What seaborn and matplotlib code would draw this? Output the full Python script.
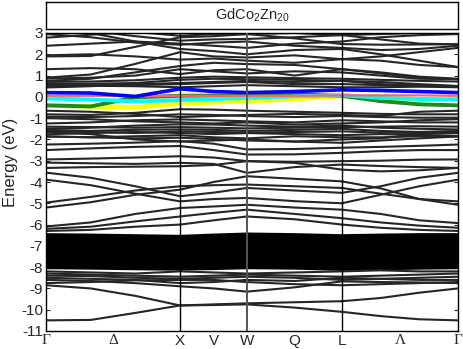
import numpy as np
import pandas as pd
import matplotlib
matplotlib.use("Agg")
import matplotlib.pyplot as plt
import seaborn as sns

sns.set_theme(style="white")
plt.rcParams["font.family"] = ["Liberation Sans", "DejaVu Sans"]
plt.rcParams["axes.unicode_minus"] = False
plt.rcParams["mathtext.default"] = "regular"

# ---- k-path (fcc): segment lengths in 2pi/a and sampled fractions ----
SEGMENTS = [1.0, 0.5, 0.7071, 0.8660]          # G-X, X-W, W-L, L-G
FRACTIONS = [[0, 1/3, 2/3], [0, 0.5], [0, 0.5], [0, 1/3, 2/3, 1]]
TICK_LABELS = ["Γ", "Δ", "X", "V", "W", "Q", "L", "Λ", "Γ"]
TICK_FRAC = [(0, 0), (0, 0.5), (1, 0), (1, 0.5), (2, 0), (2, 0.5), (3, 0), (3, 0.5), (3, 1)]

# ---- bands: energies (eV) at G, D1, D2, X, V, W, Q, L, L1, L2, G ----
u1 = [2.78, 2.92, 3.05, 2.87, 2.95, 2.95, 3.00, 2.90, 2.95, 3.00, 3.03]
u2 = [3.20, 3.10, 2.85, 2.64, 2.70, 2.72, 2.80, 2.90, 2.70, 2.50, 2.47]
u3 = [1.90, 1.92, 2.35, 2.80, 2.85, 2.95, 2.75, 2.48, 2.45, 2.46, 2.47]
u4 = [3.10, 3.00, 2.60, 2.25, 2.15, 2.00, 2.20, 2.25, 2.00, 1.70, 1.40]
u5 = [0.90, 1.05, 1.55, 2.10, 1.90, 1.85, 1.95, 1.77, 1.70, 1.50, 1.40]
u6 = [0.75, 0.85, 1.15, 1.45, 1.60, 1.54, 1.50, 1.30, 1.15, 0.95, 0.85]
u7 = [1.30, 1.35, 1.30, 1.07, 1.25, 1.30, 1.00, 1.30, 1.10, 0.90, 0.83]
u8 = [0.86, 0.90, 1.00, 1.30, 1.20, 1.10, 1.20, 1.15, 1.00, 0.85, 0.83]
u9 = [0.60, 0.62, 0.65, 0.80, 0.85, 0.83, 0.80, 0.75, 0.70, 0.60, 0.51]
u10 = [0.55, 0.55, 0.55, 0.60, 0.65, 0.70, 0.60, 0.60, 0.55, 0.50, 0.51]
u11 = [0.44, 0.50, 0.60, 0.65, 0.70, 0.75, 0.70, 0.75, 0.60, 0.55, 0.50]
u12 = [2.40, 2.50, 2.60, 2.50, 2.40, 2.30, 2.50, 2.60, 2.80, 2.90, 2.95]
u13 = [0.70, 0.72, 0.78, 0.90, 0.95, 0.92, 0.88, 0.85, 0.80, 0.75, 0.72]
u14 = [0.48, 0.52, 0.50, 0.45, 0.50, 0.55, 0.50, 0.45, 0.45, 0.48, 0.45]
u15 = [1.95, 2.00, 1.90, 1.75, 1.80, 1.70, 1.60, 1.77, 1.90, 2.10, 2.30]
u16 = [2.95, 2.80, 2.55, 2.45, 2.55, 2.60, 2.40, 2.30, 2.20, 2.25, 2.40]

m1 = [-0.82, -0.85, -0.75, -0.58, -0.60, -0.65, -0.70, -0.75, -0.80, -0.82, -0.82]
m2 = [-0.93, -0.95, -0.90, -0.82, -0.85, -0.90, -0.95, -0.90, -0.95, -0.98, -0.98]
m3 = [-1.25, -1.20, -1.10, -1.06, -1.10, -1.15, -1.20, -1.10, -1.15, -1.20, -1.20]
m4 = [-1.50, -1.45, -1.35, -1.29, -1.30, -1.35, -1.40, -1.35, -1.45, -1.50, -1.53]
m5 = [-1.55, -1.60, -1.55, -1.53, -1.55, -1.60, -1.55, -1.50, -1.60, -1.65, -1.60]
m6 = [-1.76, -1.70, -1.65, -1.70, -1.75, -1.70, -1.75, -1.80, -1.75, -1.80, -1.84]
m7 = [-1.86, -1.90, -1.85, -1.80, -1.90, -1.95, -1.85, -1.90, -1.90, -1.85, -1.86]
m8 = [-1.65, -1.75, -2.00, -2.10, -2.05, -2.00, -2.10, -2.00, -1.95, -1.75, -1.70]
m9 = [-1.00, -1.05, -1.15, -1.20, -1.25, -1.20, -1.30, -1.25, -1.20, -1.10, -1.05]
m10 = [-1.40, -1.42, -1.45, -1.42, -1.45, -1.48, -1.45, -1.42, -1.40, -1.38, -1.40]
m11 = [-1.62, -1.65, -1.70, -1.62, -1.65, -1.68, -1.65, -1.62, -1.68, -1.70, -1.70]
m12 = [-0.65, -0.70, -0.80, -0.95, -0.90, -0.85, -0.80, -0.85, -0.90, -0.70, -0.65]

d1 = [-1.86, -1.90, -1.95, -1.92, -1.98, -2.05, -2.10, -2.16, -2.05, -1.95, -1.86]
d2 = [-2.24, -2.20, -2.15, -2.08, -2.20, -2.47, -2.45, -2.39, -2.35, -2.30, -2.24]
d3 = [-2.50, -2.42, -2.35, -2.31, -2.50, -2.71, -2.70, -2.63, -2.55, -2.50, -2.50]
d4 = [-2.94, -2.90, -2.85, -2.79, -2.85, -3.02, -3.05, -3.02, -3.00, -2.95, -2.94]
d5 = [-3.09, -3.12, -3.15, -3.10, -3.15, -3.57, -3.30, -3.18, -3.25, -3.30, -3.34]
d6 = [-3.56, -3.80, -4.20, -4.67, -4.50, -4.28, -4.40, -4.51, -4.20, -3.80, -3.57]
d7 = [-3.89, -4.15, -4.55, -4.91, -4.80, -4.75, -4.90, -5.00, -4.60, -4.20, -3.89]
d8 = [-4.97, -4.70, -4.40, -4.20, -4.15, -4.12, -4.20, -4.28, -4.55, -4.80, -4.91]
d9 = [-5.20, -4.95, -4.60, -4.36, -4.00, -3.73, -3.85, -3.97, -4.30, -4.80, -5.07]
d10 = [-3.34, -3.30, -3.28, -3.26, -3.20, -3.02, -3.10, -3.42, -3.50, -3.45, -3.34]
d11 = [-6.09, -5.90, -5.50, -5.22, -5.15, -5.07, -5.20, -5.30, -5.50, -5.80, -5.93]
d12 = [-6.20, -6.10, -5.85, -5.62, -5.45, -5.30, -5.50, -5.70, -5.90, -6.05, -6.15]
d13 = [-6.30, -6.25, -6.10, -6.00, -5.80, -5.62, -5.75, -6.00, -6.15, -6.25, -6.30]

l1 = [-10.50, -10.48, -10.15, -9.80, -9.78, -9.75, -9.90, -10.10, -10.30, -10.45, -10.50]
l2 = [-8.85, -9.00, -9.35, -9.80, -9.75, -9.70, -9.65, -9.60, -9.45, -9.20, -9.00]
l3 = [-8.60, -8.65, -8.75, -8.90, -9.00, -9.15, -8.95, -8.67, -8.70, -8.72, -8.75]
l4 = [-8.50, -8.55, -8.60, -8.75, -8.70, -8.60, -8.65, -8.50, -8.55, -8.60, -8.60]
l5 = [-8.30, -8.35, -8.40, -8.45, -8.40, -8.35, -8.40, -8.45, -8.40, -8.35, -8.30]
l6 = [-8.20, -8.25, -8.30, -8.20, -8.25, -8.30, -8.25, -8.20, -8.15, -8.20, -8.20]
l7 = [-8.40, -8.42, -8.50, -8.55, -8.50, -8.45, -8.50, -8.60, -8.55, -8.50, -8.45]
l8 = [-8.75, -8.70, -8.62, -8.60, -8.60, -8.70, -8.80, -8.85, -8.80, -8.75, -8.70]

# Zn 3d manifold
z1 = [-6.50, -6.52, -6.55, -6.58, -6.52, -6.47, -6.50, -6.55, -6.52, -6.50, -6.50]
z2 = [-6.60, -6.62, -6.66, -6.68, -6.62, -6.58, -6.60, -6.65, -6.63, -6.60, -6.60]
z3 = [-6.70, -6.72, -6.75, -6.78, -6.73, -6.70, -6.72, -6.76, -6.73, -6.70, -6.70]
z4 = [-6.80, -6.82, -6.85, -6.88, -6.84, -6.80, -6.82, -6.86, -6.83, -6.80, -6.80]
z5 = [-6.90, -6.92, -6.95, -6.97, -6.94, -6.90, -6.92, -6.96, -6.93, -6.90, -6.90]
z6 = [-7.00, -7.02, -7.05, -7.07, -7.04, -7.00, -7.02, -7.06, -7.03, -7.00, -7.00]
z7 = [-7.10, -7.12, -7.15, -7.17, -7.14, -7.10, -7.12, -7.16, -7.13, -7.10, -7.10]
z8 = [-7.20, -7.22, -7.25, -7.27, -7.24, -7.20, -7.22, -7.26, -7.23, -7.20, -7.20]
z9 = [-7.30, -7.32, -7.35, -7.37, -7.34, -7.30, -7.32, -7.36, -7.33, -7.30, -7.30]
z10 = [-7.40, -7.42, -7.45, -7.47, -7.44, -7.40, -7.42, -7.46, -7.43, -7.40, -7.40]
z11 = [-7.50, -7.52, -7.55, -7.57, -7.54, -7.50, -7.52, -7.56, -7.53, -7.50, -7.50]
z12 = [-7.60, -7.62, -7.65, -7.67, -7.64, -7.60, -7.62, -7.66, -7.63, -7.60, -7.60]
z13 = [-7.70, -7.72, -7.75, -7.77, -7.74, -7.70, -7.72, -7.76, -7.73, -7.70, -7.70]
z14 = [-7.80, -7.82, -7.85, -7.87, -7.84, -7.80, -7.82, -7.86, -7.83, -7.80, -7.80]
z15 = [-7.90, -7.92, -7.95, -7.97, -7.94, -7.90, -7.92, -7.96, -7.93, -7.90, -7.90]
z16 = [-8.00, -8.02, -8.05, -8.07, -8.04, -8.00, -8.02, -8.08, -8.05, -8.02, -8.00]

# highlighted bands crossing the Fermi level
blue = [0.20, 0.18, 0.02, 0.38, 0.25, 0.20, 0.25, 0.33, 0.30, 0.25, 0.20]
red = [0.05, 0.05, 0.03, 0.05, 0.05, 0.05, 0.05, 0.07, 0.07, 0.07, 0.05]
cyan = [-0.08, -0.12, -0.22, -0.15, -0.10, -0.05, 0.02, 0.08, -0.05, -0.10, -0.12]
yellow = [-0.40, -0.45, -0.50, -0.30, -0.25, -0.20, -0.10, 0.05, -0.08, -0.12, -0.12]
green = [-0.40, -0.45, -0.02, 0.05, 0.06, 0.07, 0.12, 0.05, -0.20, -0.35, -0.40]

black_bands = [u1, u2, u3, u4, u5, u6, u7, u8, u9, u10, u11, u12, u13, u14, u15, u16,
               m1, m2, m3, m4, m5, m6, m7, m8, m9, m10, m11, m12,
               d1, d2, d3, d4, d5, d6, d7, d8, d9, d10, d11, d12, d13,
               l1, l2, l3, l4, l5, l6, l7, l8]
dblock = [z1, z2, z3, z4, z5, z6, z7, z8, z9, z10, z11, z12, z13, z14, z15, z16]
colored = [(yellow, "#ffff00", 3.4), (green, "#1f8a1f", 2.8),
           (cyan, "#00ffff", 2.8), (red, "#ff6464", 1.6), (blue, "#0000ff", 2.6)]

# k coordinates
starts = np.concatenate([[0], np.cumsum(SEGMENTS)])
K = []
for s, seg, fr in zip(starts, SEGMENTS, FRACTIONS):
    K.extend([s + f * seg for f in fr])
K = np.array(K)
tick_pos = [starts[i] + f * SEGMENTS[i] for i, f in TICK_FRAC]


def long_df(bands):
    rows = []
    for b, vals in enumerate(bands):
        for k, e in zip(K, vals):
            rows.append((b, k, e))
    return pd.DataFrame(rows, columns=["band", "k", "E"])


fig = plt.figure(figsize=(4.63, 3.49), dpi=100)
ax = fig.add_axes([46 / 463, 1 - 331 / 349, 412 / 463, 298 / 349])

sns.lineplot(data=long_df(dblock), x="k", y="E", units="band", estimator=None,
             sort=False, color="black", lw=3.0, ax=ax, legend=False)
sns.lineplot(data=long_df(black_bands), x="k", y="E", units="band", estimator=None,
             sort=False, color="#262626", lw=1.5, ax=ax, legend=False)
for vals, c, w in colored:
    sns.lineplot(x=K, y=vals, color=c, lw=w, ax=ax, legend=False)

for x, c, w in [(starts[1], "black", 1.0), (starts[2], "#555555", 1.4), (starts[3], "black", 1.0)]:
    ax.axvline(x, color=c, lw=w, zorder=5)

ax.set_xlim(0, starts[-1])
ax.set_ylim(-11, 3)
ax.set_yticks(range(-11, 4))
ax.set_xticks(tick_pos)
ax.set_xticklabels(TICK_LABELS)
for t, lab in zip(ax.get_xticklabels(), TICK_LABELS):
    t.set_fontsize(11)
    if lab in ("Γ", "Δ", "Λ"):
        t.set_family(["Liberation Serif", "DejaVu Serif"])
ax.tick_params(axis="x", length=0, pad=2)
ax.tick_params(axis="y", direction="in", length=3, width=0.8, right=True, left=True,
               labelsize=11, pad=2)
ax.set_xlabel("")
ax.set_ylabel("Energy (eV)", fontsize=12)
ax.yaxis.set_label_coords(-0.068, 0.565)
for sp in ax.spines.values():
    sp.set_color("black")
    sp.set_linewidth(1.0)

axt = fig.add_axes([46 / 463, 1 - 29 / 349, 412 / 463, 27 / 349])
axt.set_xticks([])
axt.set_yticks([])
for sp in axt.spines.values():
    sp.set_color("black")
    sp.set_linewidth(1.0)
axt.text(0.5, 0.5, "GdCo$_2$Zn$_{20}$", ha="center", va="center", fontsize=10.5,
         transform=axt.transAxes)

fig.savefig("out.png", dpi=100)
